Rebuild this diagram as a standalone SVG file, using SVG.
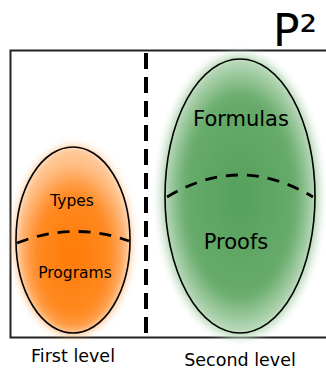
<svg xmlns="http://www.w3.org/2000/svg" width="326" height="369" viewBox="0 0 326 369">
<defs>
<radialGradient id="og" cx="0.5" cy="0.58" r="0.5">
<stop offset="0" stop-color="#ff7a05"/>
<stop offset="0.65" stop-color="#ff8a22"/>
<stop offset="1" stop-color="#ffc490"/>
</radialGradient>
<radialGradient id="gg" cx="0.5" cy="0.5" r="0.5">
<stop offset="0" stop-color="#55a05c"/>
<stop offset="0.7" stop-color="#68ab6c"/>
<stop offset="1" stop-color="#c8e2c8"/>
</radialGradient>
<filter id="blur" x="-20%" y="-20%" width="140%" height="140%"><feGaussianBlur stdDeviation="4"/></filter>
<style>
.lbl{font-family:"DejaVu Sans",sans-serif;fill:#000;text-anchor:middle}
.edge{fill:none;stroke:#000;stroke-width:1.6}
.dash{fill:none;stroke:#000;stroke-width:2.8;stroke-dasharray:12 9}
</style>
</defs>
<rect width="326" height="369" fill="#fff"/>
<g id="frame">
<path d="M326 50.5 H10.5 V337.5 H326" fill="none" stroke="#222" stroke-width="2"/>
</g>
<g id="connectors">
<line x1="146" y1="53" x2="146" y2="337" stroke="#000" stroke-width="4" stroke-dasharray="16 8"/>
</g>
<g id="second-level">
<ellipse cx="240" cy="196" rx="80" ry="142" fill="url(#gg)" filter="url(#blur)"/>
<ellipse class="edge" cx="240" cy="196" rx="75" ry="137"/>
<path class="dash" d="M167 197 Q240 153 313 197"/>
<text class="lbl" x="241" y="126" font-size="21">Formulas</text>
<text class="lbl" x="236" y="249" font-size="21">Proofs</text>
</g>
<g id="first-level">
<ellipse cx="73" cy="240" rx="58" ry="94" fill="url(#og)" filter="url(#blur)"/>
<ellipse class="edge" cx="73" cy="240" rx="57" ry="93"/>
<path class="dash" d="M17 243 Q73 221 129 241"/>
<text class="lbl" x="72" y="206" font-size="15.5">Types</text>
<text class="lbl" x="75" y="278" font-size="15.5">Programs</text>
</g>
<g id="labels">
<text class="lbl" x="73" y="362" font-size="17.5">First level</text>
<text class="lbl" x="240" y="366" font-size="17.5">Second level</text>
<text x="273" y="46" font-family="DejaVu Sans,sans-serif" font-size="44">P²</text>
</g>
</svg>
